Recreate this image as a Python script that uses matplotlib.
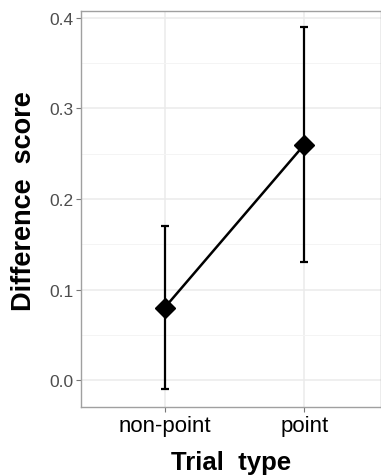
import numpy as np
import matplotlib.pyplot as plt

# data
trial_types = ['non-point', 'point']
means = [0.08, 0.26]
lower = [-0.01, 0.13]
upper = [0.17, 0.39]

plt.rcParams['font.family'] = ['Liberation Sans', 'DejaVu Sans']

fig = plt.figure(figsize=(3.81, 4.77), dpi=100)
ax = fig.add_axes([81 / 381, 69 / 477, 1 - 81 / 381, 396 / 477])

x = np.arange(1, len(trial_types) + 1)
m = np.array(means)
yerr = [m - np.array(lower), np.array(upper) - m]

ax.errorbar(x, m, yerr=yerr, fmt='none', ecolor='black', elinewidth=1.6,
            capsize=3, capthick=1.6, zorder=3)
ax.plot(x, m, color='black', linewidth=1.8, marker='D', markersize=10.5,
        zorder=4)

ax.set_xlim(0.4, 2 + 77 / 140)
ax.set_ylim(-0.0298, 0.4077)
ax.set_xticks(x)
ax.set_xticklabels(trial_types)
ax.set_yticks([0.0, 0.1, 0.2, 0.3, 0.4])
ax.set_yticklabels(['0.0', '0.1', '0.2', '0.3', '0.4'])
ax.set_yticks([0.05, 0.15, 0.25, 0.35], minor=True)

ax.grid(True, which='major', color='#EBEBEB', linewidth=1.1)
ax.grid(True, which='minor', axis='y', color='#F4F4F4', linewidth=0.7)
ax.set_axisbelow(True)

for side in ['left', 'bottom', 'top', 'right']:
    ax.spines[side].set_color('#A0A0A0')
    ax.spines[side].set_linewidth(1.0)

ax.tick_params(axis='both', which='major', length=3.5, color='#777777',
               width=0.8)
ax.tick_params(axis='y', which='minor', length=0)
ax.tick_params(axis='y', labelsize=12.5, labelcolor='#4D4D4D', pad=2)
ax.tick_params(axis='x', labelsize=16, labelcolor='black', pad=2)

ax.set_xlabel('Trial  type', fontsize=18.5, fontweight='bold', labelpad=10)
ax.set_ylabel('Difference  score', fontsize=19.5, fontweight='bold')
ax.yaxis.set_label_coords(-0.148, 0.522)

fig.savefig('out.png', dpi=100)
